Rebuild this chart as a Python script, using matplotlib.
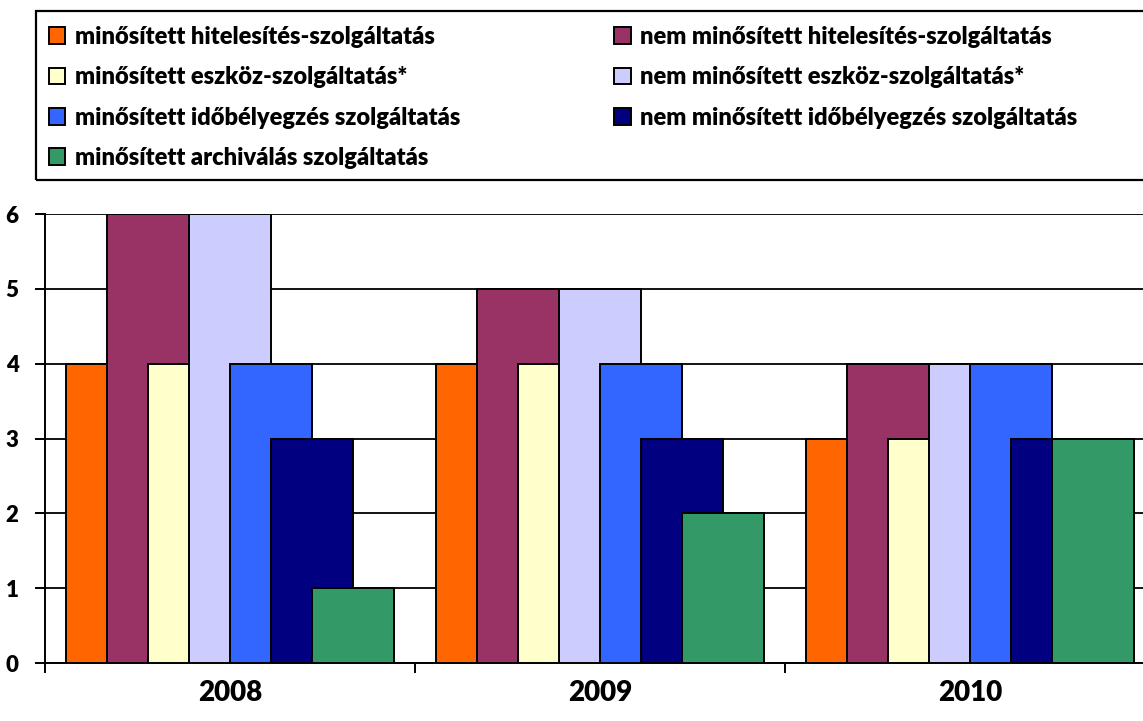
import matplotlib.pyplot as plt
from matplotlib.patches import Rectangle, Patch
import numpy as np

plt.rcParams['font.family'] = ['Lato', 'DejaVu Sans']

years = ["2008", "2009", "2010"]
series = [
    "minősített hitelesítés-szolgáltatás",
    "nem minősített hitelesítés-szolgáltatás",
    "minősített eszköz-szolgáltatás*",
    "nem minősített eszköz-szolgáltatás*",
    "minősített időbélyegzés szolgáltatás",
    "nem minősített időbélyegzés szolgáltatás",
    "minősített archiválás szolgáltatás",
]
values = [
    [4, 4, 3],
    [6, 5, 4],
    [4, 4, 3],
    [6, 5, 4],
    [4, 4, 4],
    [3, 3, 3],
    [1, 2, 3],
]
colors = ["#FF6600", "#993366", "#FFFFCC", "#CCCCFF", "#3366FF", "#000080", "#339966"]

fig = plt.figure(figsize=(11.43, 7.21), dpi=100)
ax = fig.add_axes([45 / 1143, 58 / 721, 1110 / 1143, 449 / 721])

x = np.arange(len(years)) + 0.5
step = 0.1108
width = 2 * step
for i, (vals, c) in enumerate(zip(values, colors)):
    ax.bar(x + (i - 3) * step, vals, width=width, color=c, edgecolor="black",
           linewidth=1.4, zorder=3 + i)

ax.set_xlim(0, 3)
ax.set_ylim(0, 6)
ax.set_yticks(range(7))
ax.yaxis.grid(True, color="black", linewidth=1.3, zorder=0)
ax.set_axisbelow(True)

ax.set_xticks(x)
ax.set_xticklabels(years, fontsize=20, fontweight="heavy")
ax.set_xticks([0, 1, 2, 3], minor=True)
ax.tick_params(axis="x", which="major", length=0, pad=12)
ax.tick_params(axis="x", which="minor", length=7, width=1.4)
ax.tick_params(axis="y", length=7, width=1.4, pad=12, labelsize=16)
for lbl in ax.get_yticklabels():
    lbl.set_fontweight("heavy")

for s in ["top", "right"]:
    ax.spines[s].set_visible(False)
for s in ["left", "bottom"]:
    ax.spines[s].set_linewidth(1.4)

# legend: frame drawn separately so it runs past the right edge
fig.patches.append(Rectangle((36 / 1143, 1 - 180 / 721), 1.2, 169 / 721,
                             transform=fig.transFigure, fill=False,
                             edgecolor="black", linewidth=1.6))
order = [0, 2, 4, 6, 1, 3, 5]
handles = [Patch(facecolor=colors[k], edgecolor="black", linewidth=1.4) for k in order]
labels = [series[k] for k in order]
fig.legend(handles, labels, ncol=2, loc="upper left",
           bbox_to_anchor=(44 / 1143, 1 - 21 / 721), frameon=False,
           prop={"weight": "heavy", "size": 17}, handlelength=0.7,
           handleheight=0.7, handletextpad=0.42, labelspacing=0.78,
           columnspacing=6.5, borderpad=0.2, borderaxespad=0)

fig.savefig("out.png", dpi=100)
